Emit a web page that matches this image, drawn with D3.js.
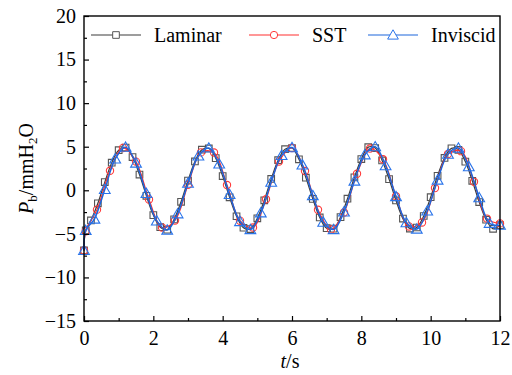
<!DOCTYPE html>
<html>
<head>
<meta charset="utf-8">
<script src="https://cdn.jsdelivr.net/npm/d3@7"></script>
<style>
html,body{margin:0;padding:0;background:#fff;}
svg{display:block;}
text{font-family:"Liberation Serif","Times New Roman",serif;fill:#000;}
</style>
</head>
<body>
<svg id="chart" width="512" height="375"></svg>
<script>
// ---- data ----
const seriesNames = ["Laminar", "SST", "Inviscid"];
const xTicks = [0, 2, 4, 6, 8, 10, 12];
const yTicks = [-15, -10, -5, 0, 5, 10, 15, 20];

const tLaminar = [0, 0.05, 0.2, 0.4, 0.6, 0.8, 1.0, 1.2, 1.4, 1.6, 1.8, 2.0, 2.2, 2.4, 2.6, 2.8, 3.0,
  3.2, 3.4, 3.6, 3.8, 4.0, 4.2, 4.4, 4.6, 4.8, 5.0, 5.2, 5.4, 5.6, 5.8, 6.0, 6.2, 6.4, 6.6, 6.8, 7.0,
  7.2, 7.4, 7.6, 7.8, 8.0, 8.2, 8.4, 8.6, 8.8, 9.0, 9.2, 9.4, 9.6, 9.8, 10.0, 10.2, 10.4, 10.6, 10.8,
  11.0, 11.2, 11.4, 11.6, 11.8, 12.0];
const pLaminar = [-6.9, -4.6, -3.46, -1.49, 0.94, 3.17, 4.60, 4.90, 3.81, 1.81, -0.63, -2.85, -4.24,
  -4.52, -3.34, -1.32, 1.12, 3.31, 4.66, 4.80, 3.69, 1.63, -0.81, -2.98, -4.30, -4.45, -3.22, -1.15,
  1.30, 3.45, 4.72, 4.85, 3.56, 1.45, -0.99, -3.12, -4.35, -4.40, -3.08, -0.97, 1.48, 3.58, 4.95,
  4.85, 3.43, 1.28, -1.17, -3.25, -4.39, -4.27, -2.95, -0.79, 1.66, 3.71, 4.81, 4.65, 3.29, 1.09,
  -1.35, -3.37, -4.42, -4.00];

const tSST = [0, 0.05, 0.375, 0.75, 1.125, 1.5, 1.875, 2.25, 2.625, 3.0, 3.375, 3.75, 4.125, 4.5,
  4.875, 5.25, 5.625, 6.0, 6.375, 6.75, 7.125, 7.5, 7.875, 8.25, 8.625, 9.0, 9.375, 9.75, 10.125,
  10.5, 10.875, 11.25, 11.625, 12.0];
const pSST = [-6.9, -4.7, -2.22, 2.24, 4.86, 3.29, -1.05, -4.28, -3.46, 0.63, 4.35, 4.33, 0.60,
  -3.49, -4.27, -1.03, 3.31, 4.85, 2.21, -2.24, -4.50, -2.54, 1.89, 4.79, 3.56, -0.69, -4.15, -3.69,
  0.26, 4.16, 4.49, 0.97, -3.25, -3.80];

const tInviscid = [0, 0.05, 0.3, 0.6, 0.9, 1.2, 1.5, 1.8, 2.1, 2.4, 2.7, 3.0, 3.3, 3.6, 3.9, 4.2,
  4.5, 4.8, 5.1, 5.4, 5.7, 6.0, 6.3, 6.6, 6.9, 7.2, 7.5, 7.8, 8.1, 8.4, 8.7, 9.0, 9.3, 9.6, 9.9,
  10.2, 10.5, 10.8, 11.1, 11.4, 11.7, 12.0];
const pInviscid = [-6.9, -4.6, -3.3, 0.1, 3.6, 4.95, 3.13, -0.36, -3.51, -4.56, -2.69, 0.82, 3.94,
  4.86, 3.02, -0.48, -3.58, -4.50, -2.58, 0.94, 4.01, 4.90, 2.92, -0.60, -3.65, -4.50, -2.48, 1.06,
  4.08, 5.0, 2.82, -0.72, -3.72, -4.45, -2.37, 1.18, 4.15, 4.85, 2.72, -0.84, -3.78, -4.0];

// ---- layout ----
const W = 512, H = 375;
const m = {left: 84, right: 12, top: 16, bottom: 54};
const FONT = "'Liberation Serif', 'Times New Roman', serif";
const svg = d3.select("#chart");
const x = d3.scaleLinear().domain([0, 12]).range([m.left, W - m.right]);
const y = d3.scaleLinear().domain([-15, 20]).range([H - m.bottom, m.top]);

const styles = [
  {name: seriesNames[0], t: tLaminar, p: pLaminar, line: "#3c3c3c", mark: "#555555", shape: "square", w: 1.2},
  {name: seriesNames[1], t: tSST, p: pSST, line: "#ff3030", mark: "#ff3a3a", shape: "circle", w: 1.2},
  {name: seriesNames[2], t: tInviscid, p: pInviscid, line: "#1c66dc", mark: "#2a74ea", shape: "triangle", w: 1.5}
];

function markerPath(shape) {
  if (shape === "square") return d3.symbol().type(d3.symbolSquare).size(44)();
  if (shape === "circle") return d3.symbol().type(d3.symbolCircle).size(42)();
  return d3.symbol().type(d3.symbolTriangle).size(50)();
}

const line = d3.line().x(d => x(d[0])).y(d => y(d[1])).curve(d3.curveCatmullRom.alpha(0.5));

const plot = svg.append("g");
styles.forEach(s => {
  const pts = s.t.map((t, i) => [t, s.p[i]]);
  plot.append("path").datum(pts).attr("d", line)
    .attr("fill", "none").attr("stroke", s.line).attr("stroke-width", s.w);
  plot.selectAll(null).data(pts).enter().append("path")
    .attr("d", markerPath(s.shape))
    .attr("transform", d => `translate(${x(d[0])},${y(d[1]) + (s.shape === "triangle" ? 1 : 0)})`)
    .attr("fill", "none").attr("stroke", s.mark).attr("stroke-width", 1.1);
});

// ---- axes ----
const xAxis = d3.axisBottom(x).tickValues(xTicks).tickSize(-5).tickPadding(10).tickFormat(d3.format("d"));
svg.append("g").attr("transform", `translate(0,${H - m.bottom})`).call(xAxis);
const xMinor = d3.axisBottom(x).tickValues([1, 3, 5, 7, 9, 11]).tickSize(-3).tickFormat("");
svg.append("g").attr("transform", `translate(0,${H - m.bottom})`).call(xMinor);

const yAxis = d3.axisLeft(y).tickValues(yTicks).tickSize(-5).tickPadding(8)
  .tickFormat(d => d < 0 ? "\u2212" + Math.abs(d) : String(d));
svg.append("g").attr("transform", `translate(${m.left},0)`).call(yAxis);
const yMinor = d3.axisLeft(y).tickValues([-12.5, -7.5, -2.5, 2.5, 7.5, 12.5, 17.5]).tickSize(-3).tickFormat("");
svg.append("g").attr("transform", `translate(${m.left},0)`).call(yMinor);

svg.selectAll(".domain").remove();
svg.selectAll(".tick line").attr("stroke", "#000").attr("stroke-width", 1.2);
svg.selectAll(".tick text").attr("font-size", 20).attr("font-family", FONT).attr("fill", "#000");

// frame
svg.append("rect").attr("x", m.left).attr("y", m.top)
  .attr("width", W - m.left - m.right).attr("height", H - m.top - m.bottom)
  .attr("fill", "none").attr("stroke", "#000").attr("stroke-width", 1.4);

// axis titles
const xt = svg.append("text").attr("x", 290).attr("y", 368).attr("text-anchor", "middle")
  .attr("font-family", FONT).attr("font-size", 20);
xt.append("tspan").attr("font-style", "italic").text("t");
xt.append("tspan").text("/s");

const yt = svg.append("text").attr("transform", `translate(33,${(m.top + H - m.bottom) / 2}) rotate(-90)`)
  .attr("text-anchor", "middle").attr("font-family", FONT).attr("font-size", 20);
yt.append("tspan").attr("font-style", "italic").text("P");
yt.append("tspan").attr("dy", 4).attr("font-size", 13).text("b");
yt.append("tspan").attr("dy", -4).text("/mmH");
yt.append("tspan").attr("dy", 4).attr("font-size", 13).text("2");
yt.append("tspan").attr("dy", -4).text("O");

// legend
const legX = [91, 249, 368];
styles.forEach((s, i) => {
  const g = svg.append("g").attr("transform", `translate(${legX[i]},35)`);
  g.append("line").attr("x1", 0).attr("x2", 50).attr("y1", 0).attr("y2", 0)
    .attr("stroke", s.line).attr("stroke-width", 1.2);
  g.append("path").attr("d", markerPath(s.shape))
    .attr("transform", `translate(25,${s.shape === "triangle" ? 1 : 0})`)
    .attr("fill", "#fff").attr("stroke", s.mark).attr("stroke-width", 1);
  g.append("text").attr("x", 63).attr("y", 6.5).attr("font-family", FONT).attr("font-size", 20).text(s.name);
});
</script>
</body>
</html>
